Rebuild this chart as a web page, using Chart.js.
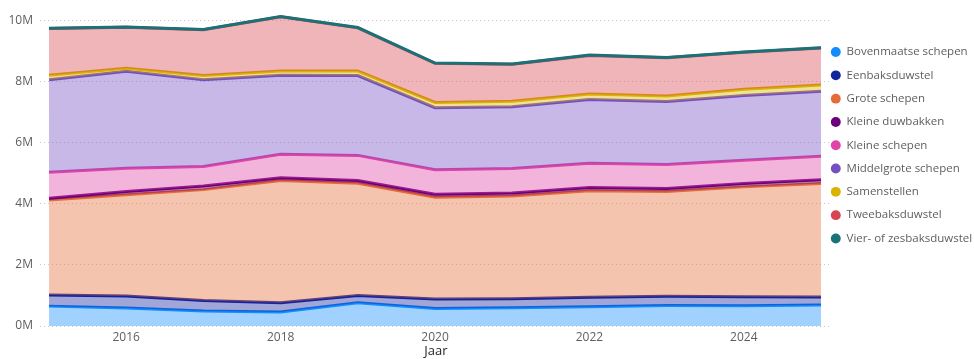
<!DOCTYPE html>
<html>
<head>
<meta charset="utf-8">
<script src="https://cdn.jsdelivr.net/npm/chart.js@4.4.1/dist/chart.umd.min.js"></script>
<style>
  html, body { margin: 0; padding: 0; background: #fff; overflow: hidden; }
</style>
</head>
<body>
<canvas id="myChart" width="974" height="359"></canvas>
<script>
const years = [2015, 2016, 2017, 2018, 2019, 2020, 2021, 2022, 2023, 2024, 2025];
const xTicks = [2016, 2018, 2020, 2022, 2024];
const yTicks = [0, 2000000, 4000000, 6000000, 8000000, 10000000];

const seriesNames = [
    'Bovenmaatse schepen', 'Eenbaksduwstel', 'Grote schepen', 'Kleine duwbakken',
    'Kleine schepen', 'Middelgrote schepen', 'Samenstellen', 'Tweebaksduwstel',
    'Vier- of zesbaksduwstel'
];

const bovenmaatse = [650000, 590000, 490000, 460000, 760000, 570000, 600000, 630000, 670000, 660000, 690000];
const eenbaks = [360000, 390000, 340000, 300000, 240000, 310000, 290000, 310000, 300000, 300000, 260000];
const grote = [3110000, 3310000, 3630000, 4000000, 3670000, 3330000, 3360000, 3480000, 3430000, 3590000, 3710000];
const kleineDuwbakken = [60000, 110000, 120000, 90000, 90000, 100000, 100000, 110000, 100000, 110000, 120000];
const kleineSchepen = [850000, 760000, 640000, 770000, 820000, 800000, 800000, 790000, 780000, 760000, 770000];
const middelgrote = [3020000, 3170000, 2830000, 2580000, 2610000, 2030000, 2020000, 2090000, 2060000, 2120000, 2130000];
const samenstellen = [150000, 100000, 140000, 140000, 150000, 170000, 180000, 180000, 180000, 200000, 200000];
const tweebaks = [1530000, 1340000, 1500000, 1770000, 1410000, 1280000, 1210000, 1260000, 1250000, 1210000, 1210000];
const vierZesbaks = [10000, 10000, 10000, 10000, 10000, 10000, 10000, 10000, 10000, 10000, 10000];

const seriesValues = [bovenmaatse, eenbaks, grote, kleineDuwbakken, kleineSchepen,
    middelgrote, samenstellen, tweebaks, vierZesbaks];

const lineColors = ['#118DFF', '#12239E', '#E66C37', '#6B007B', '#E044A7',
    '#744EC2', '#D9B300', '#D64550', '#197278'];

// running totals so each area sits on top of the one below it
const stacked = [];
let running = years.map(() => 0);
seriesValues.forEach(vals => {
    running = running.map((r, j) => r + vals[j]);
    stacked.push(running);
});

function fade(hex, a) {
    const n = parseInt(hex.slice(1), 16);
    return `rgba(${n >> 16}, ${(n >> 8) & 255}, ${n & 255}, ${a})`;
}

Chart.defaults.font.family = "'Segoe UI', 'Open Sans', sans-serif";
Chart.defaults.color = '#605E5C';

// move the legend column next to the plot
const legendPlace = {
    id: 'legendPlace',
    afterLayout(chart) {
        chart.legend.left = 819;
        chart.legend.top = 34.5;
    }
};

const ctx = document.getElementById('myChart');

new Chart(ctx, {
    type: 'line',
    data: {
        datasets: seriesNames.map((name, i) => ({
            label: name,
            data: years.map((y, j) => ({ x: y, y: stacked[i][j] })),
            borderColor: lineColors[i],
            backgroundColor: fade(lineColors[i], 0.4),
            borderWidth: 3,
            pointRadius: 0,
            tension: 0,
            fill: i === 0 ? 'origin' : '-1',
            order: seriesNames.length - i
        }))
    },
    options: {
        responsive: false,
        animation: false,
        layout: { padding: { top: 8, left: 0, right: 0, bottom: 0 } },
        plugins: {
            tooltip: { enabled: false },
            legend: {
                position: 'right',
                align: 'start',
                maxWidth: 142,
                labels: {
                    usePointStyle: true,
                    pointStyle: 'circle',
                    boxWidth: 10,
                    boxHeight: 7,
                    padding: 11.8,
                    color: '#605E5C',
                    font: { size: 11.5 },
                    generateLabels(chart) {
                        return chart.data.datasets.map((ds, i) => ({
                            text: ds.label,
                            fillStyle: ds.borderColor,
                            strokeStyle: ds.borderColor,
                            lineWidth: 0,
                            pointStyle: 'circle',
                            datasetIndex: i,
                            fontColor: '#605E5C'
                        }));
                    }
                }
            }
        },
        scales: {
            x: {
                type: 'linear',
                min: 2014.883,
                max: 2025.142,
                grid: { display: false, drawTicks: false },
                border: { display: false },
                afterBuildTicks: scale => { scale.ticks = xTicks.map(v => ({ value: v })); },
                afterFit: scale => { scale.height = 33; },
                ticks: {
                    padding: 4,
                    font: { size: 12 },
                    color: '#605E5C',
                    callback: v => String(v)
                },
                title: {
                    display: true,
                    text: 'Jaar',
                    color: '#252423',
                    font: { size: 13 },
                    padding: { top: 0, bottom: 0 }
                }
            },
            y: {
                min: 0,
                max: 10400000,
                grid: { color: '#C8C8C8', drawTicks: false, lineWidth: 1 },
                border: { display: false, dash: [1, 3] },
                afterBuildTicks: scale => { scale.ticks = yTicks.map(v => ({ value: v })); },
                afterFit: scale => {
                    scale.width = 40;
                    scale.paddingTop = 0;
                    scale.paddingBottom = 0;
                },
                ticks: {
                    padding: 7,
                    font: { size: 12 },
                    color: '#605E5C',
                    callback: v => (v / 1000000) + 'M'
                }
            }
        }
    },
    plugins: [legendPlace]
});
</script>
</body>
</html>
